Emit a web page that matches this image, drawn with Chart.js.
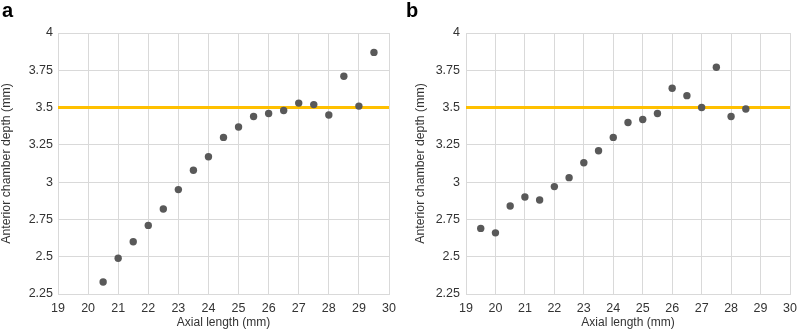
<!DOCTYPE html>
<html>
<head>
<meta charset="utf-8">
<script src="https://cdn.jsdelivr.net/npm/chart.js@4.4.0/dist/chart.umd.min.js"></script>
<style>
  html, body { margin: 0; padding: 0; background: #fff; }
  body { width: 799px; height: 336px; position: relative; overflow: hidden; font-family: "Liberation Sans", Arial, sans-serif; }
  .panel { position: absolute; top: 0; height: 336px; }
  .lbl { position: absolute; font-weight: bold; font-size: 20px; line-height: 20px; color: #000; }
</style>
</head>
<body>
<div class="panel" style="left:0;width:400px;"><canvas id="ca" width="400" height="336"></canvas></div>
<div class="panel" style="left:400px;width:399px;"><canvas id="cb" width="399" height="336"></canvas></div>
<div class="lbl" style="left:2px;top:0px;">a</div>
<div class="lbl" style="left:406px;top:0px;">b</div>
<script>
// ---- Data ----
const axialA = [20.5, 21, 21.5, 22, 22.5, 23, 23.5, 24, 24.5, 25, 25.5, 26, 26.5, 27, 27.5, 28, 28.5, 29, 29.5];
const acdA   = [2.33, 2.49, 2.60, 2.71, 2.82, 2.95, 3.08, 3.17, 3.30, 3.37, 3.44, 3.46, 3.48, 3.53, 3.52, 3.45, 3.71, 3.51, 3.87];

const axialB = [19.5, 20, 20.5, 21, 21.5, 22, 22.5, 23, 23.5, 24, 24.5, 25, 25.5, 26, 26.5, 27, 27.5, 28, 28.5];
const acdB   = [2.69, 2.66, 2.84, 2.90, 2.88, 2.97, 3.03, 3.13, 3.21, 3.30, 3.40, 3.42, 3.46, 3.63, 3.58, 3.50, 3.77, 3.44, 3.49];

const referenceDepth = 3.5;
const xRange = [19, 30];
const yRange = [2.25, 4];
const xTitle = "Axial length (mm)";
const yTitle = "Anterior chamber depth (mm)";

// ---- Styles ----
const FONT = "'Liberation Sans', Arial, sans-serif";
const GRID = "#d9d9d9";
const DOT = "#595959";
const GOLD = "#FFC000";
const TXT = "#333333";

function makeChart(id, xs, ys, geo) {
  const pts = xs.map((x, i) => ({ x: x, y: ys[i] }));
  const ref = [{ x: xRange[0], y: referenceDepth }, { x: xRange[1], y: referenceDepth }];
  return new Chart(document.getElementById(id), {
    type: 'scatter',
    data: {
      datasets: [
        { data: pts, backgroundColor: DOT, borderColor: DOT, pointRadius: 3.7, pointBorderWidth: 0, order: 0 },
        { type: 'line', data: ref, borderColor: GOLD, borderWidth: 3, pointRadius: 0, fill: false, order: 1 }
      ]
    },
    options: {
      responsive: false,
      animation: false,
      events: [],
      layout: { padding: { top: geo.top, right: geo.right, left: 0, bottom: 0 } },
      plugins: { legend: { display: false }, tooltip: { enabled: false } },
      scales: {
        x: {
          type: 'linear', min: xRange[0], max: xRange[1],
          ticks: { stepSize: 1, padding: 7, color: TXT, font: { family: FONT, size: 12.5 }, maxRotation: 0, autoSkip: false },
          grid: { color: GRID, drawTicks: false, lineWidth: 1 },
          border: { color: GRID },
          title: { display: true, text: xTitle, color: TXT, font: { family: FONT, size: 12 }, padding: { top: 6, bottom: 6 } },
          afterFit: s => { s.height = geo.xh; s.paddingLeft = 0; s.paddingRight = 0; }
        },
        y: {
          type: 'linear', min: yRange[0], max: yRange[1],
          ticks: { stepSize: 0.25, padding: geo.tp, color: TXT, font: { family: FONT, size: 12.5 },
                   callback: v => String(+Number(v).toFixed(2)) },
          grid: { color: GRID, drawTicks: false, lineWidth: 1 },
          border: { color: GRID },
          title: { display: true, text: yTitle, color: TXT, font: { family: FONT, size: 12.3 }, padding: { top: geo.yt, bottom: 0 } },
          afterFit: s => { s.width = geo.yw; s.paddingTop = 0; s.paddingBottom = 0; }
        }
      }
    }
  });
}

makeChart('ca', axialA, acdA, { top: 33, right: 11, xh: 42, yw: 58, tp: 5, yt: -1 });
makeChart('cb', axialB, acdB, { top: 33, right: 9, xh: 42, yw: 66, tp: 6, yt: 13 });
</script>
</body>
</html>
